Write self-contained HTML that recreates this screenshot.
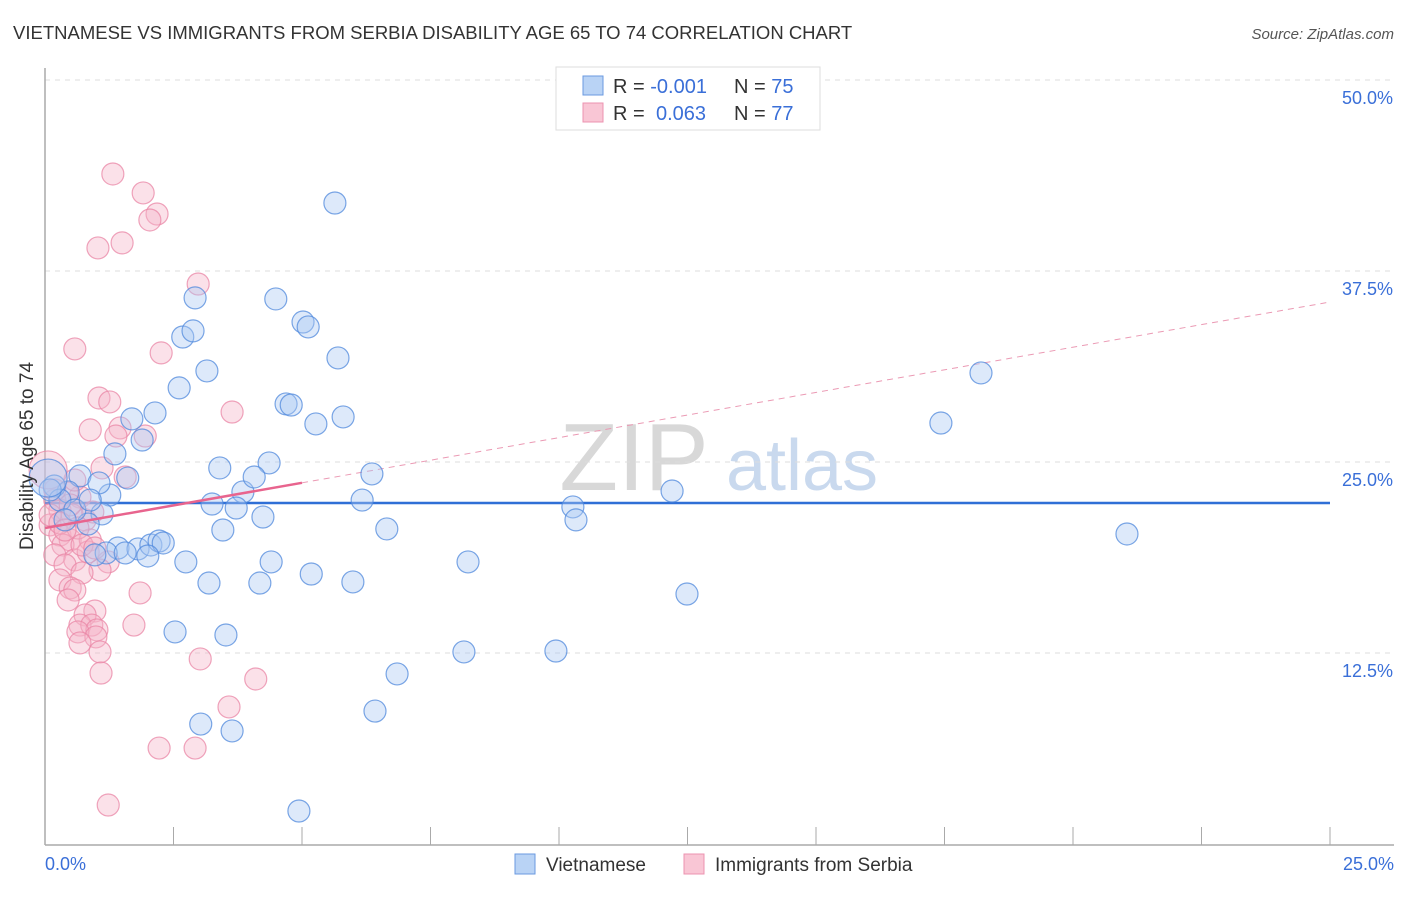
<!DOCTYPE html>
<html><head><meta charset="utf-8"><style>
body{margin:0;background:#fff;font-family:"Liberation Sans",sans-serif}
svg text{font-family:"Liberation Sans",sans-serif}
</style></head><body>
<svg id="chart" width="1406" height="892" xmlns="http://www.w3.org/2000/svg">
<text x="13" y="39" font-size="18.5" fill="#333">VIETNAMESE VS IMMIGRANTS FROM SERBIA DISABILITY AGE 65 TO 74 CORRELATION CHART</text>
<text x="1394" y="39" font-size="15" fill="#555" font-style="italic" text-anchor="end">Source: ZipAtlas.com</text>
<g>
<text x="634" y="490" font-size="96" fill="#d8d8d8" font-family="Liberation Serif" text-anchor="middle">ZIP</text>
<text x="802" y="490" font-size="72" fill="#c9d9ee" text-anchor="middle">atlas</text>
</g>
<g id="grid"></g>
<g id="axes"></g>
<g id="lines"></g>
<g id="pts"></g>
<g>
<rect x="556" y="67" width="264" height="63" fill="#fff" stroke="#ddd"/>
<rect x="583" y="76" width="20" height="19" fill="#b9d3f5" stroke="#6a9ae0"/>
<rect x="583" y="103" width="20" height="19" fill="#f9c6d5" stroke="#ec93b0"/>
<text x="613" y="93" font-size="20" fill="#333">R = <tspan fill="#3a6fd8">-0.001</tspan><tspan x="734">N = </tspan><tspan fill="#3a6fd8">75</tspan></text>
<text x="613" y="120" font-size="20" fill="#333">R = <tspan x="656" fill="#3a6fd8">0.063</tspan><tspan x="734">N = </tspan><tspan fill="#3a6fd8">77</tspan></text>
</g>
<g>
<rect x="515" y="854" width="20" height="20" fill="#b9d3f5" stroke="#6a9ae0"/>
<text x="546" y="871" font-size="19" fill="#333">Vietnamese</text>
<rect x="684" y="854" width="20" height="20" fill="#f9c6d5" stroke="#ec93b0"/>
<text x="715" y="871" font-size="19" fill="#333">Immigrants from Serbia</text>
</g>
<text transform="translate(33,456) rotate(-90)" font-size="19" fill="#333" text-anchor="middle">Disability Age 65 to 74</text>
</svg>
<script>
const yTicks=[12.5,25,37.5,50];
const yTickLabels=["12.5%","25.0%","37.5%","50.0%"];
const xTickLabels=["0.0%","25.0%"];
const blueX=[5.64,2.92,4.49,5.02,5.12,2.68,2.88,5.70,3.15,2.61,2.14,4.69,4.79,5.27,5.80,1.69,1.89,1.36,1.61,0.68,3.40,4.36,6.36,3.85,4.07,1.26,1.05,0.45,0.18,3.25,3.72,6.17,4.24,1.11,0.84,3.46,6.65,10.27,10.33,12.20,17.43,18.21,21.05,1.42,1.19,0.97,1.81,2.06,2.22,2.30,1.56,2.00,2.74,4.40,3.19,4.18,5.18,5.99,8.23,12.49,2.53,3.52,8.15,9.94,6.85,6.42,3.03,3.64,4.94,0.29,0.10,0.58,0.39,0.88,0.06];
const blueY=[41.95,35.74,35.67,34.16,33.84,33.18,33.58,31.81,30.96,29.85,28.21,28.80,28.73,27.49,27.95,27.82,26.44,25.53,23.95,24.09,24.61,24.94,24.22,23.04,24.02,22.84,23.63,23.04,23.43,22.25,21.99,22.51,21.40,21.60,20.94,20.55,20.62,22.06,21.21,23.10,27.55,30.83,20.29,19.37,19.05,18.92,19.31,19.57,19.83,19.70,19.05,18.85,18.46,18.46,17.08,17.08,17.67,17.15,18.46,16.36,13.88,13.68,12.57,12.63,11.13,8.70,7.85,7.40,2.16,22.51,23.17,21.86,21.21,22.51,23.95];
const pinkX=[1.32,1.91,2.18,2.04,1.50,1.03,2.98,0.58,2.26,1.05,1.26,3.64,0.88,1.46,1.95,1.38,1.11,1.56,0.68,0.43,0.19,0.29,0.53,0.78,0.93,0.10,0.29,0.49,0.35,0.88,0.64,0.19,0.58,0.84,1.23,0.39,1.07,0.72,0.29,0.49,0.58,1.85,0.45,0.97,0.78,0.68,0.91,1.01,0.64,0.99,0.68,1.73,1.07,1.09,3.02,4.10,3.58,2.22,2.92,1.23,0.19,0.49,0.10,0.29,0.72,0.97,0.39,0.58,0.06];
const pinkY=[43.85,42.61,41.23,40.84,39.34,39.01,36.65,32.40,32.14,29.19,28.93,28.27,27.10,27.23,26.70,26.70,24.61,24.02,22.71,22.97,22.51,21.86,21.53,21.21,21.73,20.88,20.22,19.90,19.57,19.90,20.68,18.92,18.59,19.11,18.46,18.26,17.93,17.74,17.28,16.76,16.62,16.43,15.97,15.25,14.99,14.33,14.33,14.01,13.88,13.55,13.16,14.33,12.57,11.19,12.11,10.80,8.97,6.28,6.28,2.55,23.17,22.19,21.53,21.01,19.57,19.37,20.55,23.82,24.48];
const blueTrend=[22.32,22.32];
const pinkTrend=[20.68,35.47];
const pinkSolidEnd=5;
const X=v=>45+v/25*1285, Y=v=>844-v/12.5*191;
const NS="http://www.w3.org/2000/svg";
function mk(p,t,a){const e=document.createElementNS(NS,t);for(const k in a)e.setAttribute(k,a[k]);document.getElementById(p).appendChild(e);return e;}
yTicks.forEach((t,i)=>{
 const g=mk('grid','line',{x1:45,x2:1394,y1:Y(t),y2:Y(t),stroke:'#ddd','stroke-dasharray':'5,5'});
 
 
 const l=mk('axes','text',{x:1393,y:Y(t)+24,'font-size':18,fill:'#3a6fd8','text-anchor':'end'});
 l.textContent=yTickLabels[i];
 
 
});
mk('axes','line',{x1:45,x2:45,y1:68,y2:845,stroke:'#aaa','stroke-width':1.5});
mk('axes','line',{x1:45,x2:1394,y1:845,y2:845,stroke:'#aaa','stroke-width':1.5});
for(let i=0;i<=10;i++){const tx=X(i*2.5);const t=mk('axes','line',{x1:tx,x2:tx,y1:827,y2:845,stroke:'#aaa'});}
[[0,'start',45],[1,'end',1394]].forEach(([i,a,x])=>{const t=mk('axes','text',{x:x,y:870,'font-size':18,fill:'#3a6fd8','text-anchor':a});t.textContent=xTickLabels[i];});
function dot(x,y,big,f,s,nm){const c=mk('pts','circle',{cx:X(x),cy:Y(y),r:big?19:11,fill:f,'fill-opacity':0.4,stroke:s,'stroke-opacity':0.75,'stroke-width':1.2});
 
 }
pinkX.forEach((x,i)=>dot(x,pinkY[i],i===pinkX.length-1,'#f6b3c8','#e985a6','serbia-point'));
blueX.forEach((x,i)=>dot(x,blueY[i],i===blueX.length-1,'#a9c8f2','#4f88dc','vietnamese-point'));
const pt=x=>pinkTrend[0]+(pinkTrend[1]-pinkTrend[0])*x/25;
let l=mk('lines','line',{x1:X(0),y1:Y(blueTrend[0]),x2:X(25),y2:Y(blueTrend[1]),stroke:'#2f6fd6','stroke-width':2.5});


l=mk('pts','line',{x1:X(0),y1:Y(pt(0)),x2:X(pinkSolidEnd),y2:Y(pt(pinkSolidEnd)),stroke:'#e8648e','stroke-width':2.5});


l=mk('lines','line',{x1:X(pinkSolidEnd),y1:Y(pt(pinkSolidEnd)),x2:X(25),y2:Y(pt(25)),stroke:'#eb9ab4','stroke-width':1,'stroke-dasharray':'6,5'});


</script>
</body></html>
